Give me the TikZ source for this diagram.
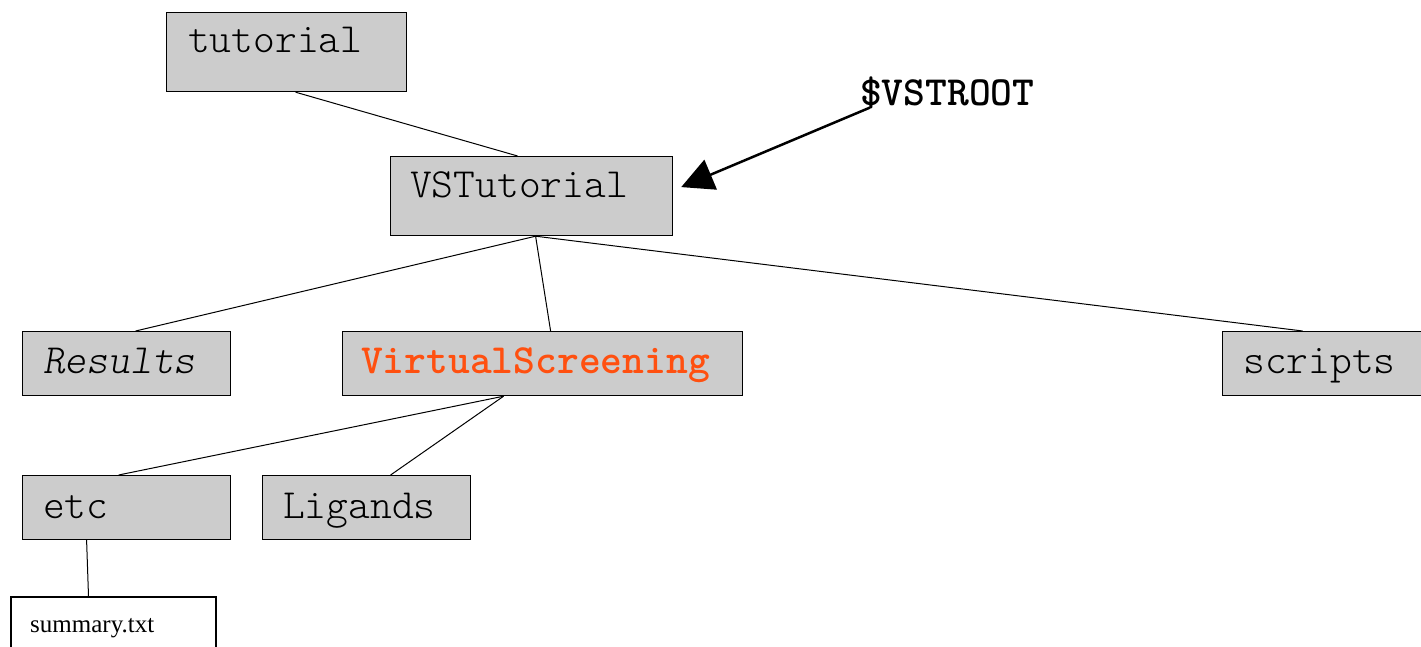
\documentclass[tikz,border=0pt]{standalone}
\usepackage{fontspec}
\setmainfont{Liberation Serif}
\newfontfamily\monofont{lmmonolt10}[Extension=.otf, UprightFont=*-regular, BoldFont=*-bold, ItalicFont=*-oblique]
\usetikzlibrary{arrows.meta,calc}
\definecolor{boxgray}{HTML}{CCCCCC}
\definecolor{vsorange}{HTML}{FF5010}
\tikzset{
  dirbox/.style={draw=black, line width=1.2pt, fill=boxgray, inner sep=0pt, anchor=north west},
  filebox/.style={draw=black, line width=2pt, fill=white, inner sep=0pt, anchor=north west},
  dirname/.style={anchor=base west, inner sep=0pt, font=\monofont\fontsize{41.5}{44}\selectfont},
  filename/.style={anchor=base west, inner sep=0pt, font=\fontsize{25}{28}\selectfont},
  link/.style={draw=black, line width=1pt},
  pointer/.style={draw=black, line width=2.5pt, -{Triangle[length=32pt,width=32pt]}}
}
\begin{document}
\begin{tikzpicture}[x=1pt,y=-1pt]
\useasboundingbox (0,0) rectangle (1421,647);

% directory boxes
\node[dirbox, minimum width=240pt, minimum height=79pt] (tut) at (166,12) {};
\node[dirbox, minimum width=282pt, minimum height=79pt] (vst) at (390,156) {};
\node[dirbox, minimum width=208pt, minimum height=64pt] (res) at (22,331) {};
\node[dirbox, minimum width=400pt, minimum height=64pt] (vs) at (342,331) {};
\node[dirbox, minimum width=208pt, minimum height=64pt] (scr) at (1222,331) {};
\node[dirbox, minimum width=208pt, minimum height=64pt] (etc) at (22,475) {};
\node[dirbox, minimum width=208pt, minimum height=64pt] (lig) at (262,475) {};
\node[filebox, minimum width=205pt, minimum height=70pt] (sum) at (10,596) {};

% directory names
\node[dirname] (tutT) at (188,53) {tutorial};
\node[dirname] (vstT) at (410,197) {VSTutorial};
\node[dirname] (resT) at (43,373) {\itshape Results};
\node[dirname, text=vsorange] (vsT) at (361,373) {\bfseries VirtualScreening};
\node[dirname] (scrT) at (1243,373) {scripts};
\node[dirname] (etcT) at (43,518) {etc};
\node[dirname] (ligT) at (283,518) {Ligands};
\node[filename] (sumT) at (30,632) {summary.txt};

% root marker
\node[anchor=base west, inner sep=0pt, font=\monofont\bfseries\fontsize{41.5}{44}\selectfont] (root) at (860,106) {\$VSTROOT};

% tree links
\draw[link] ([xshift=9pt]tut.south) -- ([xshift=-14pt]vst.north);
\draw[link] ([xshift=4pt]vst.south) -- ([xshift=9pt]res.north);
\draw[link] ([xshift=4pt]vst.south) -- ([xshift=8pt]vs.north);
\draw[link] ([xshift=4pt]vst.south) -- ([xshift=-24pt]scr.north);
\draw[link] ([xshift=-39pt]vs.south) -- ([xshift=-8pt]etc.north);
\draw[link] ([xshift=-39pt]vs.south) -- ([xshift=24pt]lig.north);
\draw[link] ([xshift=-40pt]etc.south) -- ([xshift=-25pt]sum.north);

% pointer from the root marker to its directory
\draw[pointer] ([shift={(10,-2)}]root.south west) -- ([shift={(8,-9)}]vst.east);
\end{tikzpicture}
\end{document}
